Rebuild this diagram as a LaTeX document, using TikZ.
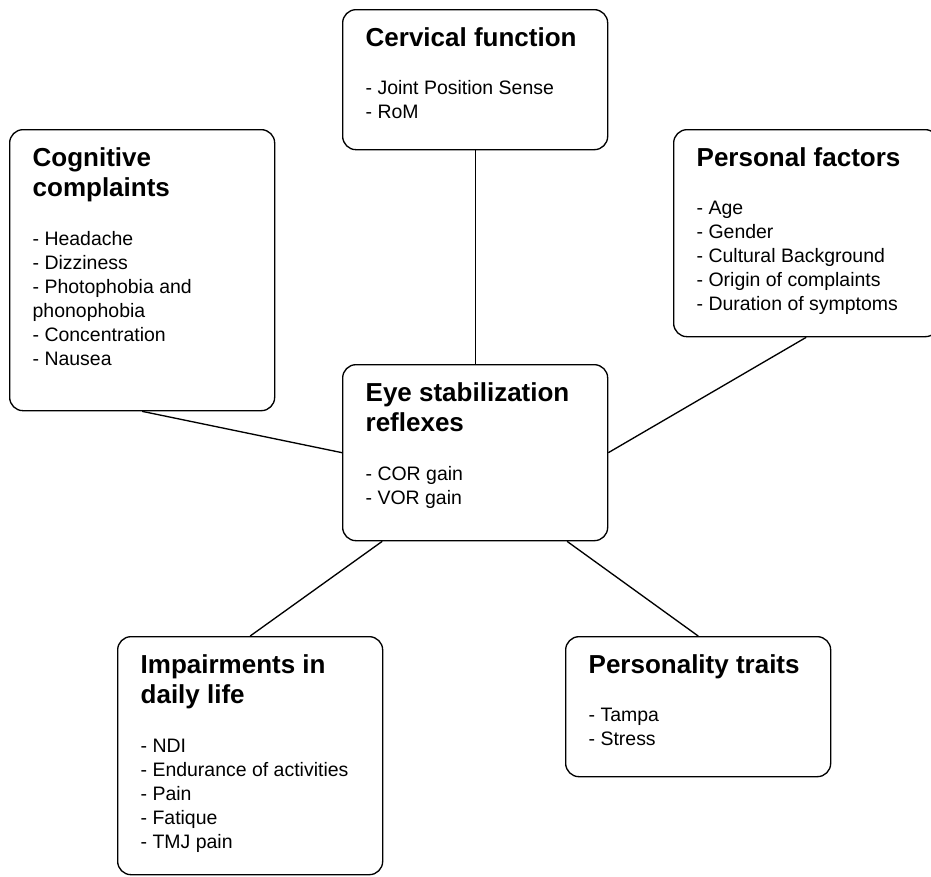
\documentclass[tikz,border=0pt]{standalone}
\usepackage{fontspec}
\setmainfont{Liberation Sans}
\usetikzlibrary{calc}

\newcommand{\titlefont}{\fontsize{19.5pt}{23pt}\selectfont\bfseries}
\newcommand{\listfont}{\fontsize{14.6pt}{18pt}\selectfont}
\newcommand{\boxtext}[3]{%
  \begin{minipage}[c][#1][t]{198.75pt}
  \leftskip=17.25pt
  {\titlefont\rule{0pt}{27.4pt}#2\par}
  \vspace{18.5pt}
  {\listfont #3\par}
  \end{minipage}}

\tikzset{
  box/.style={draw, rounded corners=10pt, line width=1pt, anchor=north west, inner sep=0pt},
  link/.style={line width=1pt}
}

\begin{document}
\begin{tikzpicture}[x=0.75pt, y=-0.75pt]
    \clip (0,0) rectangle (931,876);

    \node[box] (cerv) at (342,9) {\boxtext{105pt}{Cervical function}{- Joint Position Sense\\- RoM}};

    \node[box] (cogn) at (9,129) {\boxtext{210.75pt}{Cognitive\\complaints}{- Headache\\- Dizziness\\- Photophobia and\\phonophobia\\- Concentration\\- Nausea}};

    \node[box] (pers) at (673,129) {\boxtext{155.25pt}{Personal factors}{- Age\\- Gender\\- Cultural Background\\- Origin of complaints\\- Duration of symptoms}};

    \node[box] (eye) at (342,364) {\boxtext{132pt}{Eye stabilization\\reflexes}{- COR gain\\- VOR gain}};

    \node[box] (impa) at (117,636) {\boxtext{178.5pt}{Impairments in\\daily life}{- NDI\\- Endurance of activities\\- Pain\\- Fatique\\- TMJ pain}};

    \node[box] (prsn) at (565,636) {\boxtext{105pt}{Personality traits}{- Tampa\\- Stress}};

    % links to the centre box
    \draw[link] (cerv.south) -- (eye.north);
    \draw[link] (cogn.south) -- (eye.west);
    \draw[link] (pers.south) -- (eye.east);
    \draw[link] (impa.north) -- ($(eye.south west)!0.151!(eye.south east)$);
    \draw[link] (prsn.north) -- ($(eye.south west)!0.845!(eye.south east)$);

\end{tikzpicture}
\end{document}
